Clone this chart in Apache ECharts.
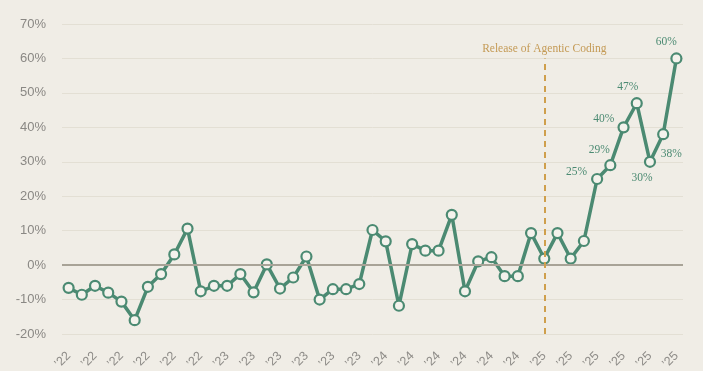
<!DOCTYPE html>
<html>
<head>
<meta charset="utf-8">
<script src="https://cdn.jsdelivr.net/npm/echarts@6/dist/echarts.min.js"></script>
<style>
html,body{margin:0;padding:0;background:#f0ede6;}
#chart{width:703px;height:371px;}
</style>
</head>
<body>
<div id="chart"></div>
<script>
// Monthly periods (Jan 2022 .. Nov 2025)
var periods = [
  '2022-01','2022-02','2022-03','2022-04','2022-05','2022-06','2022-07','2022-08','2022-09','2022-10','2022-11','2022-12',
  '2023-01','2023-02','2023-03','2023-04','2023-05','2023-06','2023-07','2023-08','2023-09','2023-10','2023-11','2023-12',
  '2024-01','2024-02','2024-03','2024-04','2024-05','2024-06','2024-07','2024-08','2024-09','2024-10','2024-11','2024-12',
  '2025-01','2025-02','2025-03','2025-04','2025-05','2025-06','2025-07','2025-08','2025-09','2025-10','2025-11'
];
// Values in percent
var values = [
  -6.6, -8.6, -6.0, -8.0, -10.6, -16.0, -6.3, -2.6, 3.1, 10.6, -7.6, -6.0,
  -6.0, -2.6, -7.9, 0.2, -6.8, -3.6, 2.5, -10.0, -7.0, -7.0, -5.5, 10.2,
  6.9, -11.8, 6.1, 4.2, 4.2, 14.6, -7.6, 1.1, 2.3, -3.2, -3.2, 9.3,
  1.9, 9.3, 1.9, 7.0, 25, 29, 40, 47, 30, 38, 60
];
var yTicks = { min: -20, max: 70, step: 10 };
var releaseIndex = 36;
var releaseLabel = 'Release of Agentic Coding';
var releaseRange = [-20, 60];
var labeledIndices = [40, 41, 42, 43, 44, 45, 46];

// label placement (styling only)
var labelPlacement = {
  40: { position: 'left', offset: [1, -7] },
  41: { position: 'top', offset: [-11, 2] },
  42: { position: 'left', offset: [2, -8] },
  43: { position: 'top', offset: [-9, 1] },
  44: { position: 'bottom', offset: [-8, -1] },
  45: { position: 'bottom', offset: [8, 3] },
  46: { position: 'top', offset: [-10, 1] }
};

var GREEN = '#4b8a72';
var GOLD = '#cf9f4c';

var seriesData = values.map(function (v, i) {
  var item = { value: v };
  if (labeledIndices.indexOf(i) >= 0) {
    var p = labelPlacement[i];
    item.label = {
      show: true,
      position: p.position,
      offset: p.offset,
      distance: 5,
      formatter: Math.round(v) + '%',
      color: GREEN,
      fontFamily: 'Liberation Serif',
      fontSize: 11.5
    };
  }
  return item;
});

var chart = echarts.init(document.getElementById('chart'), null, { renderer: 'canvas' });
chart.setOption({
  backgroundColor: '#f0ede6',
  animation: false,
  grid: { left: 62, right: 20, top: 24, bottom: 37, containLabel: false, outerBoundsMode: 'none' },
  xAxis: {
    type: 'category',
    data: periods,
    boundaryGap: true,
    axisLine: { show: false },
    axisTick: { show: false },
    splitLine: { show: false },
    axisLabel: {
      interval: 1,
      rotate: 45,
      margin: 20,
      color: '#8e8c88',
      fontFamily: 'Liberation Sans',
      fontSize: 12.5,
      formatter: function (v) { return '\u2019' + v.slice(2, 4); }
    }
  },
  yAxis: {
    type: 'value',
    min: yTicks.min,
    max: yTicks.max,
    interval: yTicks.step,
    axisLine: { show: false },
    axisTick: { show: false },
    axisLabel: {
      margin: 16,
      color: '#8a8884',
      fontFamily: 'Liberation Sans',
      fontSize: 13,
      formatter: function (v) { return v + '%'; }
    },
    splitLine: { lineStyle: { color: '#e3dfd4', width: 1 } }
  },
  series: [
    {
      type: 'line',
      data: [],
      z: 1,
      silent: true,
      markLine: {
        silent: true,
        symbol: 'none',
        animation: false,
        data: [
          [
            { yAxis: 0, x: 62, lineStyle: { color: '#a8a397', width: 2, type: 'solid' }, label: { show: false } },
            { yAxis: 0, x: 683 }
          ],
          [
            {
              coord: [releaseIndex, releaseRange[0]],
              lineStyle: { color: GOLD, width: 2, type: [6, 5] },
              label: {
                show: true,
                position: 'end',
                distance: 3,
                formatter: releaseLabel,
                color: '#c49a55',
                fontFamily: 'Liberation Serif',
                fontSize: 11.5
              }
            },
            { coord: [releaseIndex, releaseRange[1]] }
          ]
        ]
      }
    },
    {
      type: 'line',
      data: seriesData,
      z: 3,
      symbol: 'circle',
      symbolSize: 10,
      showAllSymbol: true,
      lineStyle: { color: GREEN, width: 3.5 },
      itemStyle: { color: '#f4f2ec', borderColor: GREEN, borderWidth: 2.2 },
      label: { show: false }
    }
  ]
});
</script>
</body>
</html>
